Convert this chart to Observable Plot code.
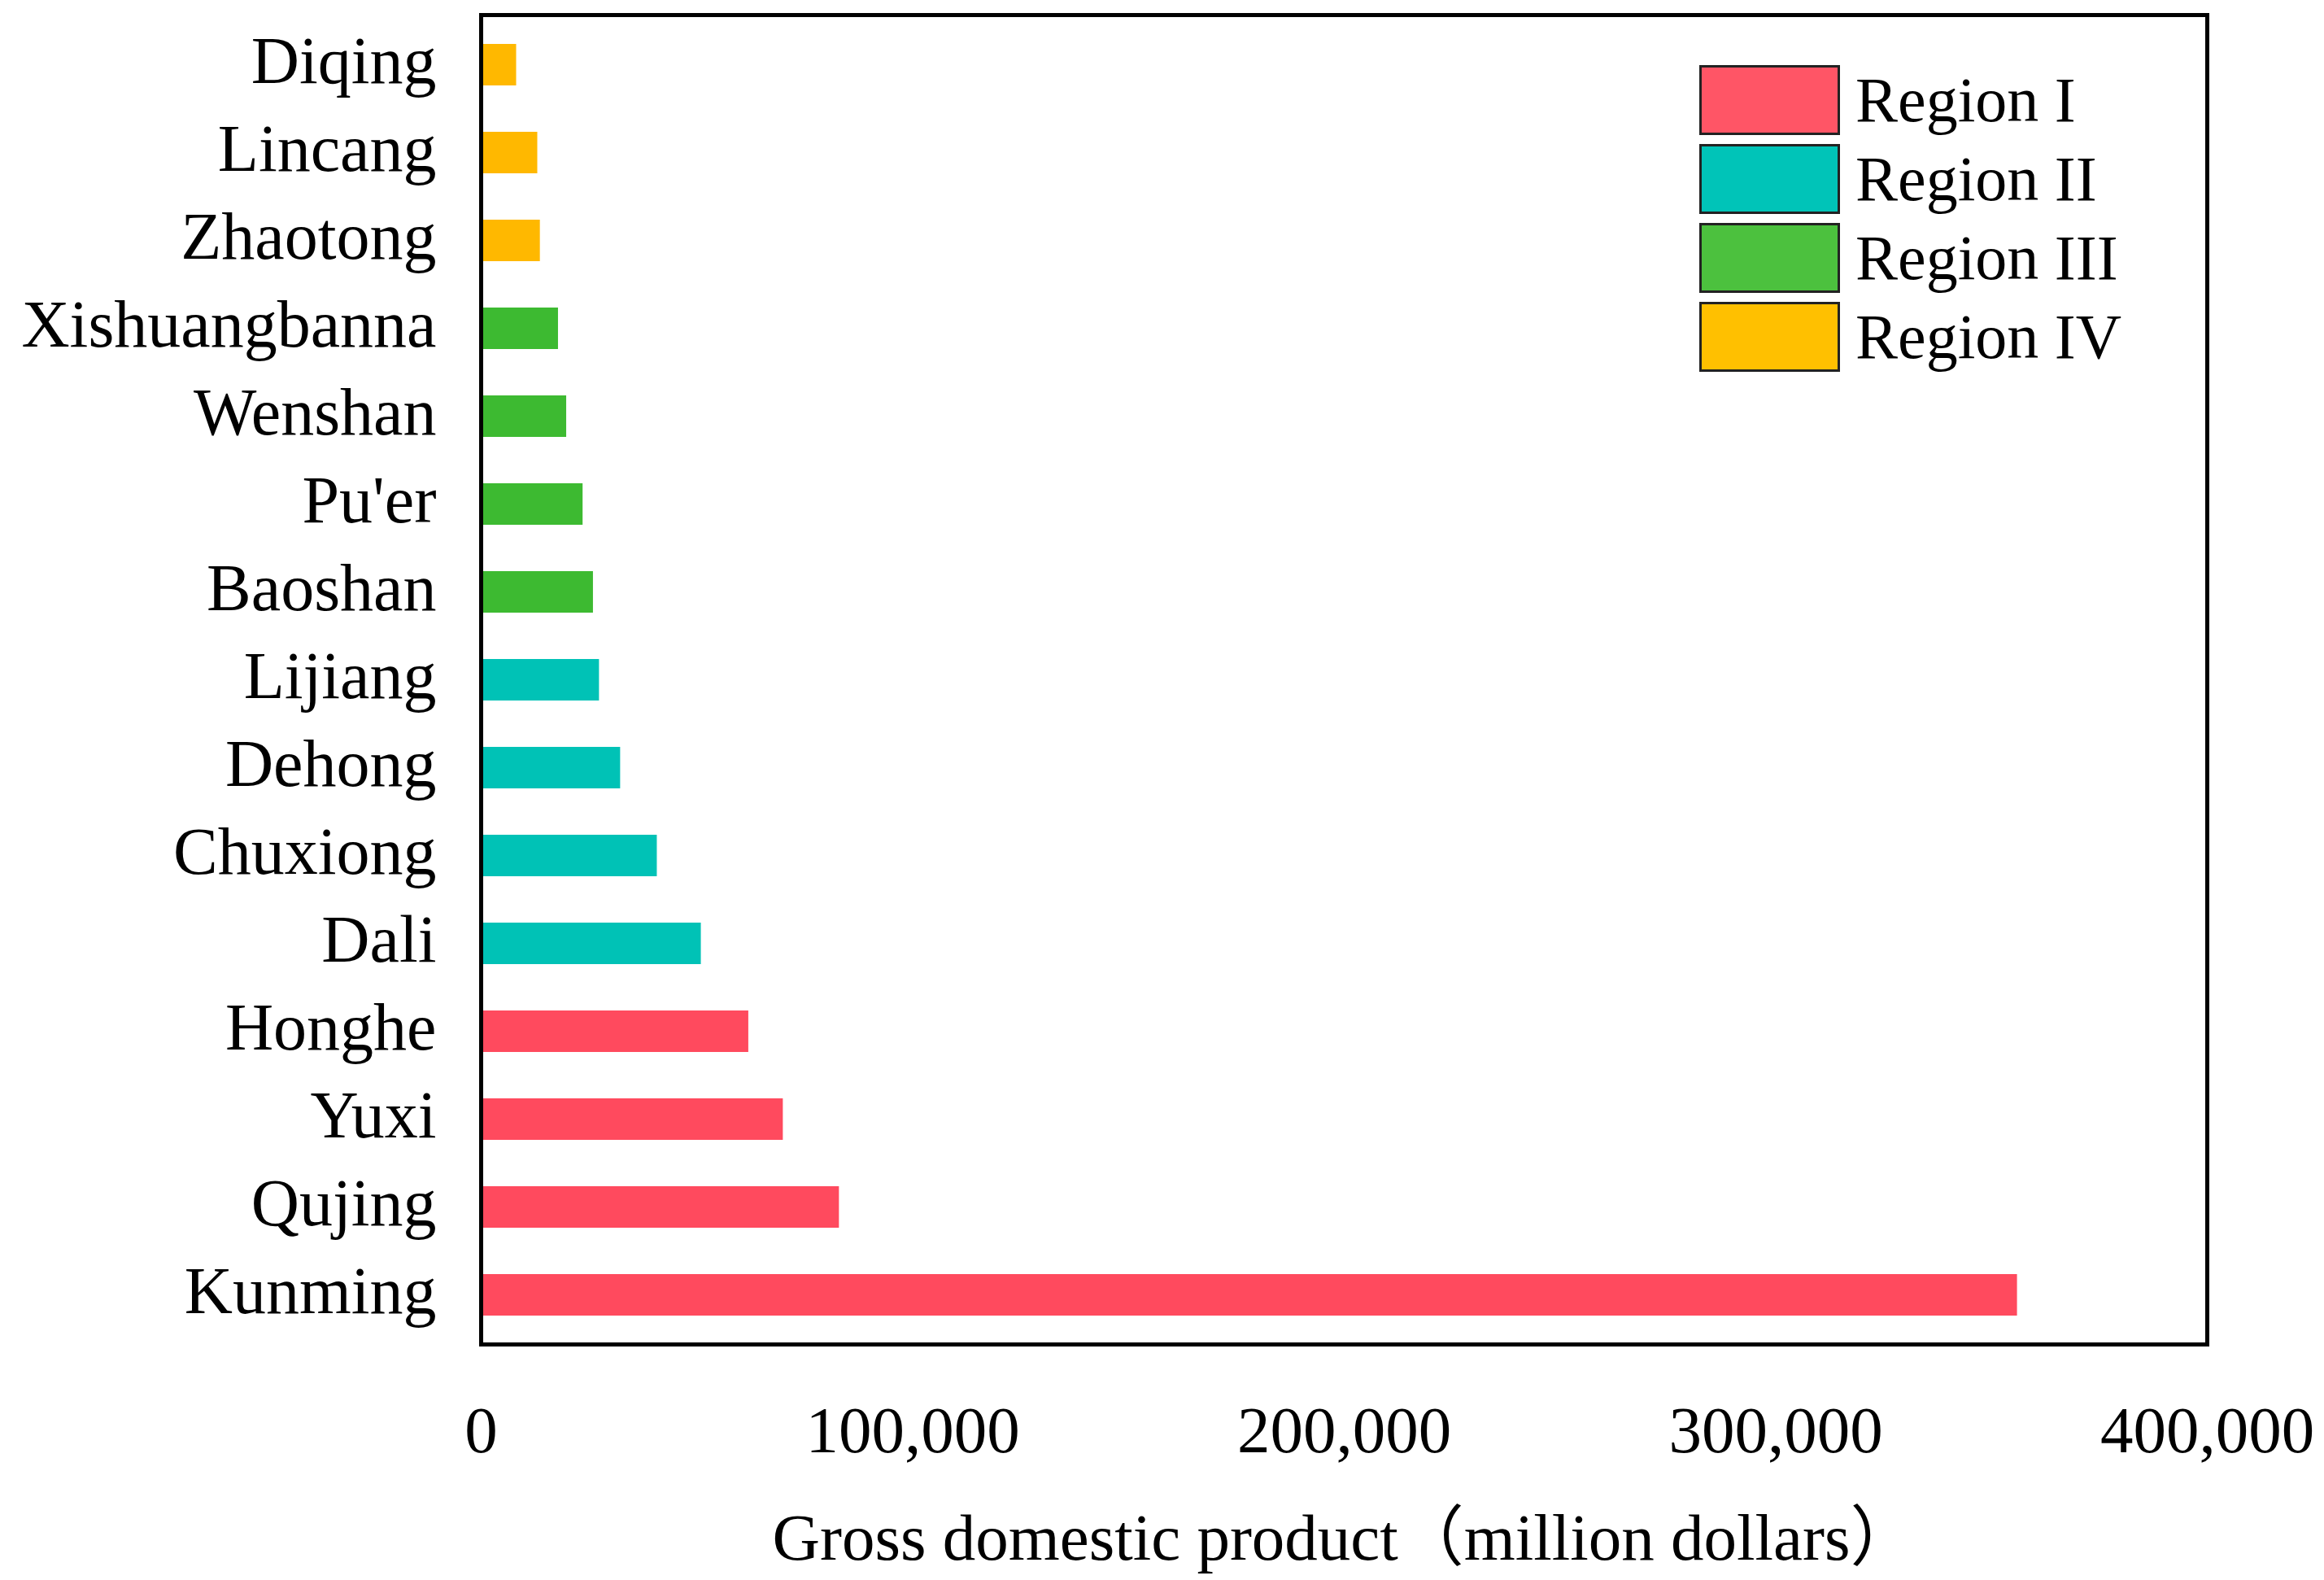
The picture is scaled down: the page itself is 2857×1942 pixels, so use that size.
<!DOCTYPE html>
<html><head><meta charset="utf-8">
<script src="https://cdn.jsdelivr.net/npm/d3@7"></script>
<script src="https://cdn.jsdelivr.net/npm/@observablehq/plot@0.6"></script>
<style>
body{margin:0;background:#fff;}
#wrap{position:relative;width:2857px;height:1942px;}
.legend{position:absolute;left:2089px;top:80px;font-family:"Liberation Serif","Times New Roman",serif;font-size:78px;color:#000;}
.row{display:flex;align-items:center;height:86px;margin-bottom:11px;}
.sw{width:167px;height:80px;border:3px solid #222;margin-right:19px;box-sizing:content-box;}
</style></head>
<body>
<div id="wrap"></div>
<script>
const cities = ["Diqing","Lincang","Zhaotong","Xishuangbanna","Wenshan","Pu'er","Baoshan","Lijiang","Dehong","Chuxiong","Dali","Honghe","Yuxi","Qujing","Kunming"];
const gdp = [8200,13100,13700,17900,19800,23600,26000,27400,32300,40800,51000,62000,70000,83000,356000];
const regionOf = ["Region IV","Region IV","Region IV","Region III","Region III","Region III","Region III","Region II","Region II","Region II","Region II","Region I","Region I","Region I","Region I"];
const regions = ["Region I","Region II","Region III","Region IV"];
const barColors = ["#FF4A5E","#00C2B6","#3DBA31","#FFB800"];
const legendColors = ["#FF5566","#00C4B8","#4CC13E","#FFC000"];
const xTicks = [0,100000,200000,300000,400000];
const xTitle = "Gross domestic product（million dollars）";

const data = cities.map((c,i)=>({city:c, gdp:gdp[i], region:regionOf[i]}));

const chart = Plot.plot({
  width: 2857,
  height: 1942,
  marginTop: 18,
  marginBottom: 290,
  marginLeft: 591,
  marginRight: 144,
  style: {fontFamily: "'Liberation Serif','Times New Roman','Noto Sans CJK SC',serif", fontSize: "82px", color: "#000", background: "#fff"},
  x: {domain: [0,400000]},
  y: {domain: cities, paddingInner: 0.53, paddingOuter: 0.265},
  color: {domain: regions, range: barColors},
  marks: [
    Plot.barX(data, {x: "gdp", y: "city", fill: "region"}),
    Plot.axisY({tickSize: 0, tickPadding: 55, label: null, fontSize: 82, dy: -4}),
    Plot.axisX({ticks: xTicks, tickFormat: d3.format(","), tickSize: 0, tickPadding: 75, fontSize: 81,
      label: xTitle, labelAnchor: "center", labelArrow: "none", labelOffset: 264}),
    Plot.frame({stroke: "#000", strokeWidth: 5})
  ]
});
const wrap = document.getElementById("wrap");
wrap.appendChild(chart);

const lg = document.createElement("div");
lg.className = "legend";
regions.forEach((r,i)=>{
  const row = document.createElement("div"); row.className = "row";
  const sw = document.createElement("div"); sw.className = "sw"; sw.style.background = legendColors[i];
  const t = document.createElement("span"); t.textContent = r;
  row.appendChild(sw); row.appendChild(t); lg.appendChild(row);
});
wrap.appendChild(lg);
</script>
</body></html>
